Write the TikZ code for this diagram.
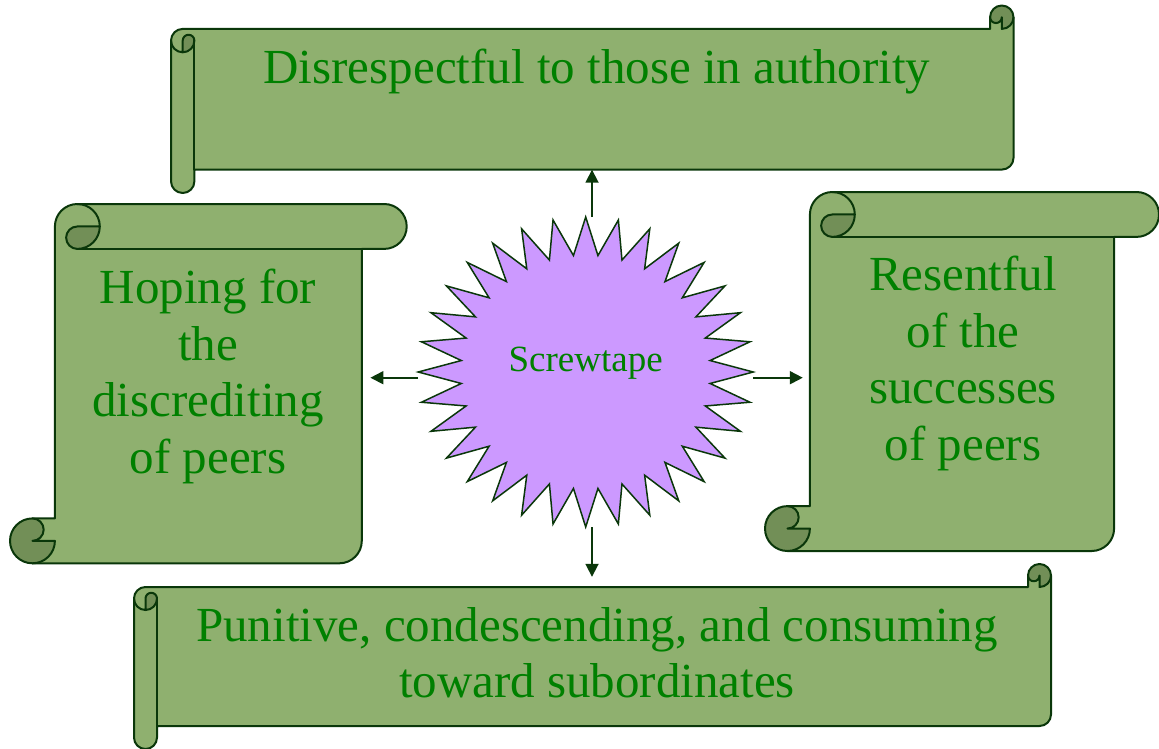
\documentclass[tikz,border=0pt]{standalone}
\usepackage{fontspec}
\setmainfont{Liberation Serif}
\usetikzlibrary{arrows.meta}
\definecolor{scrollfill}{RGB}{143,176,111}
\definecolor{scrolldark}{RGB}{114,143,87}
\definecolor{scrollline}{RGB}{10,55,10}
\definecolor{txtgreen}{RGB}{0,128,0}
\definecolor{starfill}{RGB}{204,153,255}
\tikzset{
  scrolledge/.style={draw=scrollline, line width=2pt, line join=round, line cap=round},
  scrolltext/.style={text=txtgreen, font=\fontsize{49}{56.5}\selectfont, align=center, inner sep=0pt},
  bodybox/.style={draw=none, inner sep=0pt},
  starstyle/.style={draw=scrollline, fill=starfill, line width=1.5pt, line join=miter},
  conn/.style={draw=scrollline, line width=1.8pt, -{Triangle[width=13pt,length=13pt]}},
}
% scroll in local coords (y down): width, height, roll size
\newcommand{\scrollgeom}[3]{%
  \pgfmathsetmacro{\scW}{#1}\pgfmathsetmacro{\scH}{#2}\pgfmathsetmacro{\scC}{#3}%
  \pgfmathsetmacro{\scD}{\scC/2}\pgfmathsetmacro{\scQ}{\scC/4}%
  \fill[scrollfill] (\scW,\scD) arc (0:90:\scD pt) -- (\scW-\scD,\scD) arc (0:180:\scQ pt)
     -- (\scW-\scC,\scC) -- (\scD,\scC) arc (270:180:\scD pt) -- (0,\scH-\scD)
     arc (180:0:\scD pt) -- (\scC,\scH-\scC) -- (\scW-\scD,\scH-\scC) arc (90:0:\scD pt) -- cycle;
  \fill[scrolldark] (\scD,2*\scC) arc (90:0:\scD pt) arc (0:-180:\scQ pt) -- cycle;
  \fill[scrolldark] (\scW,\scD) arc (0:-180:\scD pt) arc (180:0:\scQ pt) -- (\scW-\scD,\scC)
     arc (90:0:\scD pt) -- cycle;
  \draw[scrolledge] (0,\scC+\scD) arc (180:270:\scD pt) -- (\scW-\scC,\scC) -- (\scW-\scC,\scD)
     arc (180:360:\scD pt) -- (\scW,\scH-\scC-\scD) arc (0:90:\scD pt) -- (\scC,\scH-\scC)
     -- (\scC,\scH-\scD) arc (0:180:\scD pt) -- cycle;
  \draw[scrolledge] (\scW,\scD) arc (0:90:\scD pt) -- (\scW-\scD,\scD) arc (0:180:\scQ pt);
  \draw[scrolledge] (0,\scC+\scD) arc (180:0:\scD pt) arc (0:-180:\scQ pt) -- (\scD,2*\scC);
  \draw[scrolledge] (\scC,\scC+\scD) -- (\scC,\scH-\scC);
}
\begin{document}
\begin{tikzpicture}[x=1pt,y=1pt]
\useasboundingbox (0,0) rectangle (1159,-748);
% scrolls
\begin{scope}[shift={(171,-5.5)},yscale=-1] \scrollgeom{842.5}{187.5}{23.4} \end{scope}
\begin{scope}[shift={(134,-564)},yscale=-1] \scrollgeom{917}{185}{23} \end{scope}
\begin{scope}[shift={(10,-204)},rotate=-90] \scrollgeom{359.3}{396.7}{44.9} \end{scope}
\begin{scope}[shift={(765,-192)},rotate=-90] \scrollgeom{359}{394}{44.9} \end{scope}
% body reference boxes
\node[bodybox, minimum width=818pt, minimum height=139.5pt] (topB) at (604,-98.75) {};
\node[bodybox, minimum width=306.7pt, minimum height=314.3pt] (leftB) at (208.35,-406.15) {};
\node[bodybox, minimum width=304pt, minimum height=314pt] (rightB) at (962,-394) {};
\node[bodybox, minimum width=894pt, minimum height=139pt] (botB) at (604,-656.5) {};
% star
\begin{scope}[shift={(585.7,-372)}]
\draw[starstyle] (90:167.5pt and 155pt)
  \foreach \i [evaluate=\i as \rx using {mod(\i,2)==1 ? 125 : 167.5},
               evaluate=\i as \ry using {mod(\i,2)==1 ? 117 : 155}] in {1,...,63}
  { -- ({90+\i*5.625}:\rx pt and \ry pt) } -- cycle;
\end{scope}
\node[text=txtgreen, font=\fontsize{37}{40}\selectfont, inner sep=0pt, anchor=base] (sc) at (585.7,-371.7) {Screwtape};
% texts
\node[scrolltext, anchor=base] (tTop) at (597,-83) {Disrespectful to those in authority};
\node[scrolltext] (tLeft) at (208,-376.3) {Hoping for\\the\\discrediting\\of peers};
\node[scrolltext] (tRight) at (963,-363.3) {Resentful\\of the\\successes\\of peers};
\node[scrolltext] (tBot) at (597,-652.75) {Punitive, condescending, and consuming\\toward subordinates};
% connectors
\coordinate (sN) at (592,-217);
\coordinate (sS) at (592,-527);
\coordinate (sW) at (418,-377.7);
\coordinate (sE) at (753,-377.7);
\draw[conn] (sN) -- ([yshift=-1pt]sN |- topB.south);
\draw[conn] (sS) -- ([yshift=10pt]sS |- botB.north);
\draw[conn] (sW) -- ([xshift=8.5pt]sW -| leftB.east);
\draw[conn] (sE) -- ([xshift=-7pt]sE -| rightB.west);
\end{tikzpicture}
\end{document}
